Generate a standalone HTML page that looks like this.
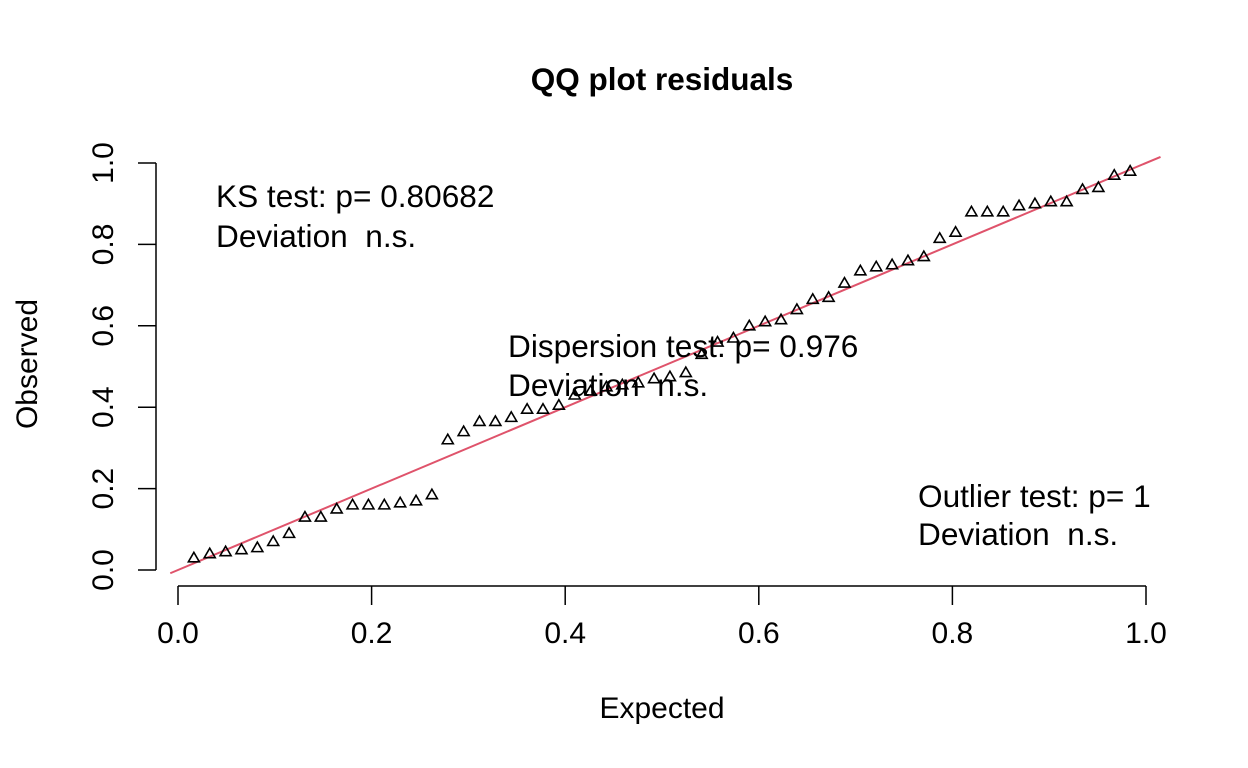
<!DOCTYPE html>
<html><head><meta charset="utf-8"><style>
html,body{margin:0;padding:0;background:#fff;width:1248px;height:768px;overflow:hidden}
svg text{font-family:"Liberation Sans",Arial,sans-serif;fill:#000;white-space:pre}
</style></head><body>
<svg id="chart" width="1248" height="768" xmlns="http://www.w3.org/2000/svg">
<text x="662" y="90" text-anchor="middle" font-size="31.5" font-weight="bold">QQ plot residuals</text>
<text x="662" y="718" text-anchor="middle" font-size="30">Expected</text>
<text transform="translate(37,364) rotate(-90)" text-anchor="middle" font-size="30">Observed</text>
<g id="axes"></g>
<line id="refline" stroke="#DF536B" stroke-width="2"/>
<g id="pts"></g>
<text x="216" y="207" font-size="31.6">KS test: p= 0.80682</text>
<text x="216" y="247" font-size="31.6">Deviation  n.s.</text>
<text x="508" y="357" font-size="31.6">Dispersion test: p= 0.976</text>
<text x="508" y="396" font-size="31.6">Deviation  n.s.</text>
<text x="918" y="507" font-size="31.6">Outlier test: p= 1</text>
<text x="918" y="545" font-size="31.6">Deviation  n.s.</text>
</svg>
<script>
const observed=[0.03,0.04,0.045,0.05,0.055,0.07,0.09,0.13,0.13,0.15,0.16,0.16,0.16,0.165,0.17,0.185,
0.32,0.34,0.365,0.365,0.375,0.395,0.395,0.405,
0.43,0.44,0.45,0.455,0.46,0.47,0.475,0.485,
0.53,0.56,0.57,0.60,0.61,0.615,0.64,0.665,0.67,0.705,0.735,0.745,0.75,0.76,0.77,0.815,0.83,
0.88,0.88,0.88,0.895,0.90,0.905,0.905,0.935,0.94,0.97,0.98];
const xTicks=[0,0.2,0.4,0.6,0.8,1.0];
const xTickLabels=["0.0","0.2","0.4","0.6","0.8","1.0"];
const yTicks=[0,0.2,0.4,0.6,0.8,1.0];
const yTickLabels=["0.0","0.2","0.4","0.6","0.8","1.0"];
const NS="http://www.w3.org/2000/svg";
const sx=v=>178+v*968, sy=v=>570-v*407;
const axes=document.getElementById('axes');
function mk(t,a,p){const e=document.createElementNS(NS,t);for(const k in a)e.setAttribute(k,a[k]);p.appendChild(e);return e;}
let xl=mk('line',{x1:sx(0),x2:sx(1),y1:586,y2:586,stroke:'#000','stroke-width':1.5},axes);


let yl=mk('line',{x1:156,x2:156,y1:sy(0),y2:sy(1),stroke:'#000','stroke-width':1.5},axes);


xTicks.forEach((v,i)=>{
  let t=mk('line',{x1:sx(v),x2:sx(v),y1:586,y2:605,stroke:'#000','stroke-width':1.5},axes);
  
  
  let l=mk('text',{x:sx(v),y:643,'text-anchor':'middle','font-size':30},axes);l.textContent=xTickLabels[i];
  
  
});
yTicks.forEach((v,i)=>{
  let t=mk('line',{x1:138,x2:156,y1:sy(v),y2:sy(v),stroke:'#000','stroke-width':1.5},axes);
  
  
  let l=mk('text',{transform:`translate(113,${sy(v)}) rotate(-90)`,'text-anchor':'middle','font-size':30},axes);l.textContent=yTickLabels[i];
  
  
});
const rl=document.getElementById('refline');
rl.setAttribute('x1',sx(-0.008));rl.setAttribute('y1',sy(-0.008));
rl.setAttribute('x2',sx(1.015));rl.setAttribute('y2',sy(1.015));
const pts=document.getElementById('pts');
const n=observed.length;
observed.forEach((v,i)=>{
  const x=sx((i+1)/(n+1)), y=sy(v);
  let p=mk('polygon',{points:`${x-5.5},${y+4} ${x+5.5},${y+4} ${x},${y-5.5}`,fill:'none',stroke:'#000','stroke-width':1.6},pts);
  
  
});
</script>
</body></html>
